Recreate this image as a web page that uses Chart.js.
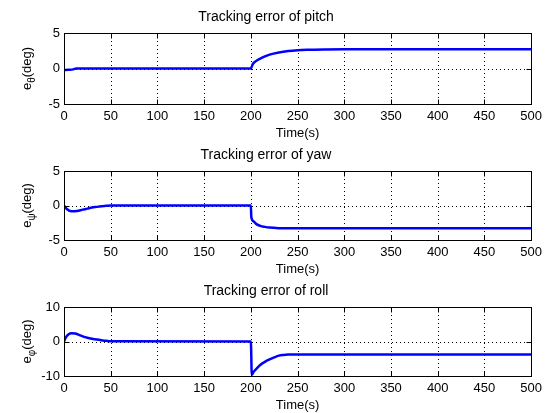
<!DOCTYPE html>
<html><head><meta charset="utf-8">
<script src="https://cdn.jsdelivr.net/npm/chart.js@4.4.1/dist/chart.umd.min.js"></script>
<style>
html,body{margin:0;padding:0;background:#fff;width:547px;height:413px;overflow:hidden;position:relative}
canvas{position:absolute;left:0}
</style></head><body>
<canvas id="p1"></canvas>
<canvas id="p2"></canvas>
<canvas id="p3"></canvas>
<script>
// ---- data ----
const timeTicks = [0, 50, 100, 150, 200, 250, 300, 350, 400, 450, 500];
const pitchTicks = [-5, 0, 5];
const yawTicks = [-5, 0, 5];
const rollTicks = [-10, 0, 10];

const pitchTime = [0, 5, 10, 13, 200, 202, 205, 210, 215, 220, 230, 240, 250, 260, 280, 300, 500];
const pitchErr  = [-0.2, -0.18, -0.12, 0, 0, 0.6, 1.0, 1.4, 1.7, 1.95, 2.25, 2.45, 2.57, 2.63, 2.68, 2.7, 2.72];

const yawTime = [0, 3, 8, 14, 20, 25, 30, 35, 40, 45, 50, 200, 200.5, 203, 206, 210, 215, 220, 230, 240, 500];
const yawErr  = [0, -0.5, -0.85, -0.8, -0.6, -0.45, -0.3, -0.2, -0.1, -0.05, 0, 0, -1.7, -2.3, -2.7, -2.95, -3.1, -3.2, -3.28, -3.3, -3.3];

const rollTime = [0, 2, 5, 8, 12, 16, 20, 25, 30, 35, 40, 45, 50, 200, 201, 203, 206, 210, 215, 220, 225, 230, 235, 240, 250, 500];
const rollErr  = [0, 1.2, 2.1, 2.4, 2.3, 1.9, 1.5, 1.1, 0.8, 0.55, 0.35, 0.2, 0.05, 0, -9.6, -8.8, -7.9, -6.8, -5.9, -5.2, -4.6, -4.1, -3.9, -3.8, -3.75, -3.75];

const FONT = "'Liberation Sans', Arial, sans-serif";

const panels = [
  {id: 'p1', title: 'Tracking error of pitch', sub: 'θ', t: pitchTime, v: pitchErr, yt: pitchTicks, top: 0,   boxBottom: 104, height: 141},
  {id: 'p2', title: 'Tracking error of yaw',   sub: 'ψ', t: yawTime,   v: yawErr,   yt: yawTicks,   top: 138, boxBottom: 240, height: 139},
  {id: 'p3', title: 'Tracking error of roll',  sub: 'φ', t: rollTime,  v: rollErr,  yt: rollTicks,  top: 274, boxBottom: 376, height: 139}
];

const matlabBox = {
  id: 'matlabBox',
  beforeDatasetsDraw(chart) {
    const {ctx, chartArea: a, scales: {x, y}} = chart;
    ctx.save();
    ctx.strokeStyle = '#000';
    ctx.lineWidth = 1;
    ctx.setLineDash([1, 3]);
    x.ticks.forEach(tk => {
      const px = Math.round(x.getPixelForValue(tk.value)) + 0.5;
      if (px <= a.left + 1 || px >= a.right - 1) return;
      ctx.beginPath(); ctx.moveTo(px, a.top); ctx.lineTo(px, a.bottom); ctx.stroke();
    });
    y.ticks.forEach(tk => {
      const py = Math.round(y.getPixelForValue(tk.value)) + 0.5;
      if (py <= a.top + 1 || py >= a.bottom - 1) return;
      ctx.beginPath(); ctx.moveTo(a.left, py); ctx.lineTo(a.right, py); ctx.stroke();
    });
    ctx.restore();
  },
  afterDraw(chart) {
    const {ctx, chartArea: a, scales: {x, y}} = chart;
    const L = 5;
    ctx.save();
    ctx.strokeStyle = '#000';
    ctx.lineWidth = 1;
    ctx.setLineDash([]);
    const l = Math.round(a.left) + 0.5, r = Math.round(a.right) + 0.5;
    const t = Math.round(a.top) + 0.5, b = Math.round(a.bottom) + 0.5;
    ctx.strokeRect(l, t, r - l, b - t);
    ctx.beginPath();
    x.ticks.forEach(tk => {
      const px = Math.round(x.getPixelForValue(tk.value)) + 0.5;
      ctx.moveTo(px, t); ctx.lineTo(px, t + L);
      ctx.moveTo(px, b); ctx.lineTo(px, b - L);
    });
    y.ticks.forEach(tk => {
      const py = Math.round(y.getPixelForValue(tk.value)) + 0.5;
      ctx.moveTo(l, py); ctx.lineTo(l + L, py);
      ctx.moveTo(r, py); ctx.lineTo(r - L, py);
    });
    ctx.stroke();
    // y label with subscript
    const sub = chart.options.plugins.matlabBox.sub;
    const cy = (a.top + a.bottom) / 2;
    ctx.translate(31, cy);
    ctx.rotate(-Math.PI / 2);
    ctx.fillStyle = '#000';
    ctx.textBaseline = 'alphabetic';
    ctx.textAlign = 'left';
    const f1 = '13px ' + FONT, f2 = '10px ' + FONT;
    ctx.font = f1; const w1 = ctx.measureText('e').width; const w3 = ctx.measureText('(deg)').width;
    ctx.font = f2; const w2 = ctx.measureText(sub).width;
    let sx = -(w1 + w2 + w3) / 2;
    ctx.font = f1; ctx.fillText('e', sx, 0); sx += w1;
    ctx.font = f2; ctx.fillText(sub, sx, 4); sx += w2;
    ctx.font = f1; ctx.fillText('(deg)', sx, 0);
    ctx.restore();
  }
};

panels.forEach(p => {
  const cv = document.getElementById(p.id);
  cv.width = 547; cv.height = p.height;
  cv.style.top = p.top + 'px';
  const xH = p.height - (p.boxBottom - p.top);
  new Chart(cv, {
    type: 'line',
    data: {
      datasets: [{
        data: p.t.map((tt, i) => ({x: tt, y: p.v[i]})),
        borderColor: '#0000ff',
        borderWidth: 2.5,
        pointRadius: 0,
        fill: false,
        cubicInterpolationMode: 'monotone'
      }]
    },
    options: {
      responsive: false,
      animation: false,
      devicePixelRatio: 1,
      layout: {padding: {left: 0, right: 15, top: 0, bottom: 0}},
      plugins: {
        legend: {display: false},
        tooltip: {enabled: false},
        title: {
          display: true, text: p.title, color: '#000',
          font: {family: FONT, size: 14, weight: 'normal'},
          padding: {top: 9, bottom: 7.2}
        },
        matlabBox: {sub: p.sub}
      },
      scales: {
        x: {
          type: 'linear', min: 0, max: 500,
          afterBuildTicks: s => { s.ticks = timeTicks.map(v => ({value: v})); },
          afterFit: s => { s.height = xH; },
          grid: {display: false, drawTicks: false},
          border: {display: false},
          ticks: {color: '#000', font: {family: FONT, size: 13}, padding: 5, maxRotation: 0, autoSkip: false},
          title: {display: true, text: 'Time(s)', color: '#000', font: {family: FONT, size: 13}, padding: {top: 0, bottom: 0}}
        },
        y: {
          type: 'linear', min: p.yt[0], max: p.yt[p.yt.length - 1],
          afterBuildTicks: s => { s.ticks = p.yt.map(v => ({value: v})); },
          afterFit: s => { s.width = 64; },
          grid: {display: false, drawTicks: false},
          border: {display: false},
          ticks: {color: '#000', font: {family: FONT, size: 13}, padding: 4}
        }
      }
    },
    plugins: [matlabBox]
  });
});
</script>
</body></html>
